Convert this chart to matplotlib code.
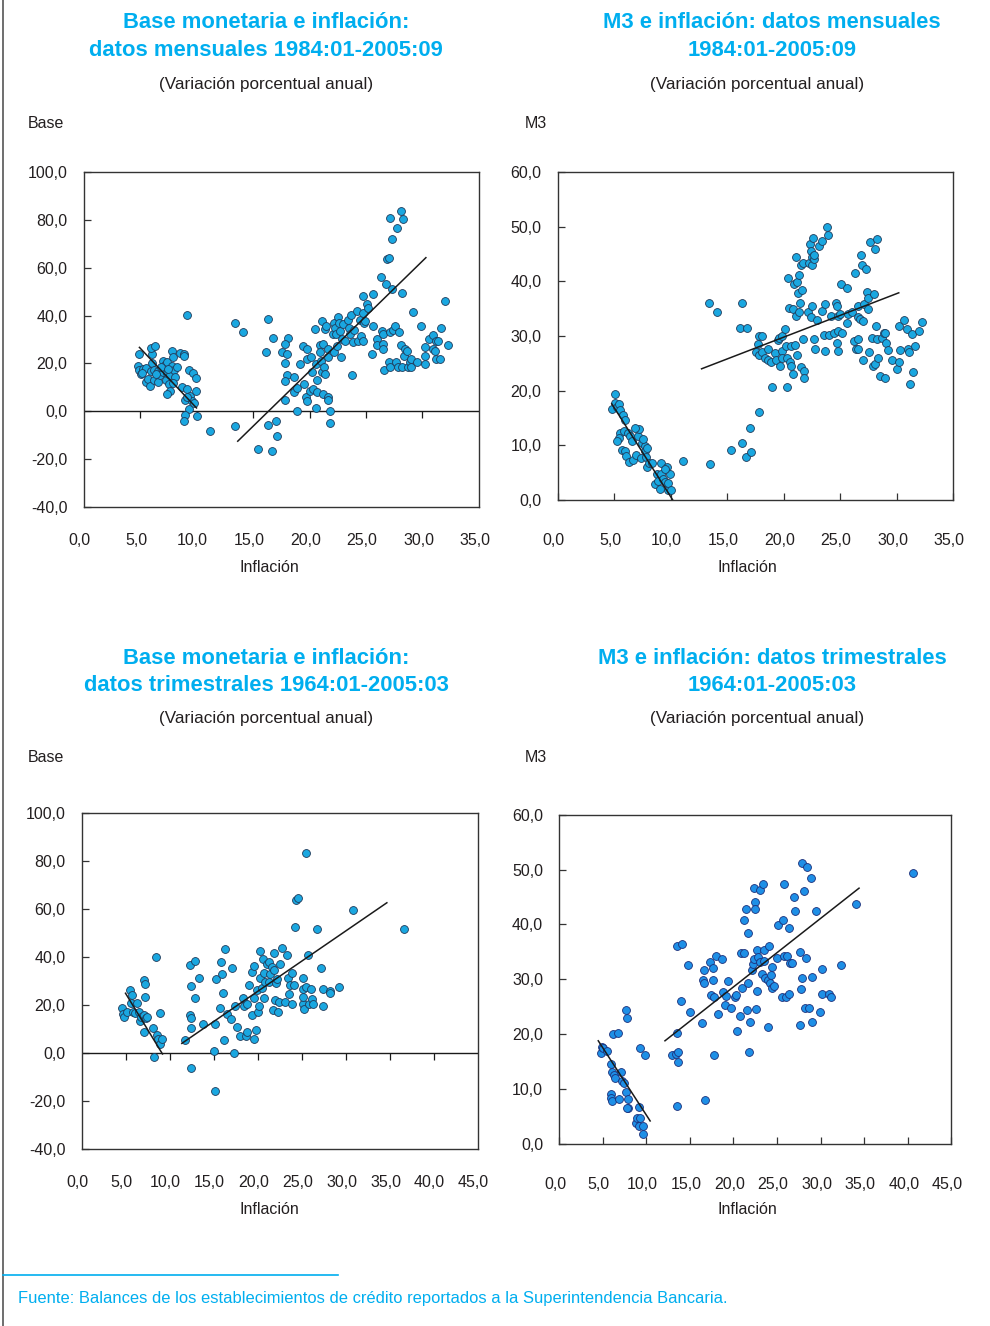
import numpy as np
import matplotlib
matplotlib.use("Agg")
import matplotlib.pyplot as plt
from matplotlib.lines import Line2D
import matplotlib.transforms as mtransforms

plt.rcParams["font.family"] = ["Liberation Sans", "DejaVu Sans"]

# --- Base monetaria vs inflacion, mensual 1984:01-2005:09 ---
bm_m_x = [4.9, 4.8, 4.95, 5.05, 5.3, 5.5, 5.55, 5.75, 5.9, 5.95, 6.05, 6.1, 6.0, 6.35, 6.2, 6.25,
          6.55, 6.6, 6.8, 7.0, 7.05, 7.25, 7.35, 7.3, 7.4, 7.6, 7.65, 7.65, 7.35, 7.8, 7.85, 7.9,
          8.05, 8.1, 8.25, 7.95, 8.55, 8.85, 8.9, 8.7, 9.15, 9.0, 9.3, 9.4, 9.6, 9.7, 9.95, 9.95,
          9.3, 8.95, 8.85, 10.0, 9.2, 9.8, 9.2, 5.15, 6.9, 6.4, 7.5,
          11.2, 13.4, 14.1, 13.45, 15.4, 16.65, 16.35, 17.0, 17.15, 16.35, 16.15, 16.75,
          18.1, 17.85, 17.6, 18.0, 17.85, 18.0, 17.85, 17.85, 18.6, 19.2, 18.6, 18.9, 18.9, 19.45,
          19.8, 19.8, 19.5, 19.65, 19.75, 20.0, 20.1, 20.2, 20.35, 20.5, 20.55, 20.6, 20.7, 20.7,
          20.9, 20.9, 21.0, 21.1, 21.1, 21.2, 21.2, 21.3, 21.4, 21.4, 21.5, 21.6, 21.6, 21.6,
          21.65, 21.8, 21.8, 22.1, 22.2, 22.2, 22.25, 22.35, 22.4, 22.55, 22.65, 22.7, 22.8, 22.9,
          23.0, 23.15, 23.4, 23.5, 23.6, 23.7, 23.8, 23.85, 23.95, 24.2, 24.3, 24.45, 24.6, 24.7,
          24.7, 24.75, 24.8, 24.95, 25.05, 25.2, 25.55, 25.65, 25.65, 26.0, 26.0, 26.3, 26.4, 26.5,
          26.5, 26.5, 26.6, 26.8, 26.9, 27.0, 27.0, 27.1, 27.1, 27.1, 27.3, 27.3, 27.4, 27.6,
          27.65, 27.7, 27.85, 27.95, 28.1, 28.1, 28.15, 28.2, 28.3, 28.4, 28.45, 28.6, 28.75, 28.9,
          29.0, 29.0, 29.2, 29.55, 29.9, 30.2, 30.2, 30.25, 30.6, 30.9, 30.95, 31.1, 31.2, 31.2,
          31.4, 31.55, 31.65, 31.95, 32.3]
bm_m_y = [23.9, 19.0, 17.2, 15.6, 17.6, 18.1, 12.1, 13.5, 10.7, 16.9, 20.0, 23.9, 26.3, 27.1, 17.2, 13.1,
          16.9, 12.1, 15.3, 21.1, 16.5, 19.3, 20.4, 13.1, 16.0, 11.4, 15.3, 8.6, 7.2, 19.0, 25.3, 22.5,
          17.4, 14.2, 18.3, 11.8, 24.2, 23.9, 22.9, 10.0, 9.3, 4.7, 17.2, 6.5, 4.4, 16.0, 13.75, 8.6,
          1.1, -1.7, -3.9, -1.8, 40.1, 3.3, 5.8, 16.2, 18.3, 15.6, 17.6,
          -8.3, 37.1, 33.3, -6.25, -15.7, -16.4, -5.6, -3.9, -10.4, 38.5, 24.6, 30.6,
          30.6, 28.3, 24.6, 23.9, 20.0, 15.3, 12.8, 4.9, 14.4, 19.7, 7.9, 9.7, 0.0, 27.4,
          26.0, 21.8, 11.4, 5.8, 4.4, 8.6, 22.8, 16.25, 9.3, 34.3, 1.4, 19.7, 13.1, 7.9,
          27.8, 24.6, 21.1, 37.8, 16.25, 7.2, 28.1, 18.3, 34.3, 15.6, 35.7, 5.8, 4.7, 22.5,
          26.0, 0.0, -4.7, 32.5, 37.1, 24.6, 35.0, 32.2, 27.4, 39.2, 36.7, 33.6, 22.5, 30.1,
          36.4, 29.4, 38.1, 35.0, 32.2, 40.3, 15.3, 28.75, 33.9, 41.9, 29.4, 38.1, 31.5, 41.0,
          29.2, 48.2, 36.7, 37.8, 44.7, 43.1, 23.9, 48.9, 35.7, 30.1, 27.8, 56.1, 33.6, 28.1,
          32.2, 26.0, 17.2, 53.3, 63.5, 64.2, 20.4, 33.3, 18.6, 80.6, 51.0, 72.2, 33.9, 35.7,
          20.4, 76.7, 18.3, 33.3, 83.9, 27.8, 18.3, 49.6, 80.4, 23.2, 26.0, 25.3, 18.3, 20.4,
          18.3, 21.8, 41.7, 20.4, 35.7, 26.9, 23.2, 19.7, 30.1, 31.9, 26.0, 25.3, 29.2, 21.8,
          29.2, 21.8, 35.0, 46.1, 27.8]
bm_m_fit1 = ([4.95, 10.0], [26.7, 1.4])
bm_m_fit2 = ([13.65, 30.3], [-12.5, 64.2])

# --- M3 vs inflacion, mensual 1984:01-2005:09 ---
m3_m_x = [5.05, 4.85, 5.05, 5.25, 5.4, 5.5, 5.8, 6.0, 5.5, 5.4, 5.7, 6.0, 6.05, 6.35, 6.7, 5.9,
          6.2, 6.4, 6.55, 6.95, 7.15, 7.25, 7.4, 7.5, 7.7, 7.75, 7.8, 7.95, 7.95, 8.1, 8.35, 8.65,
          8.8, 8.9, 9.1, 9.15, 9.2, 9.3, 9.5, 9.65, 9.75, 9.8, 9.95, 10.05, 9.55, 6.85, 7.6, 5.25,
          11.15, 13.5, 13.4, 14.1, 16.35, 16.15, 16.75, 15.35, 16.35, 16.65, 17.1, 17.05, 17.8,
          17.85, 18.1, 17.7, 17.6, 17.85, 18.1, 18.4, 18.65, 18.65, 18.9, 18.95, 19.25, 19.3, 19.5,
          19.6, 19.7, 19.85, 19.85, 19.9, 20.1, 20.2, 20.3, 20.35, 20.4, 20.5, 20.55, 20.65, 20.7,
          20.8, 20.8, 20.9, 21.0, 21.1, 21.1, 21.2, 21.2, 21.25, 21.35, 21.4, 21.5, 21.55, 21.55,
          21.6, 21.7, 21.7, 21.85, 21.85, 22.2, 22.25, 22.35, 22.4, 22.4, 22.5, 22.5, 22.55, 22.6,
          22.7, 22.7, 22.7, 22.8, 23.0, 23.1, 23.4, 23.45, 23.6, 23.7, 23.7, 23.85, 23.9, 24.0,
          24.2, 24.5, 24.65, 24.7, 24.75, 24.8, 24.8, 24.85, 25.0, 25.1, 25.2, 25.6, 25.65, 25.7,
          26.05, 26.2, 26.3, 26.4, 26.55, 26.55, 26.6, 26.6, 26.75, 26.9, 26.95, 27.05, 27.05,
          27.15, 27.3, 27.35, 27.45, 27.5, 27.6, 27.65, 27.8, 27.95, 28.05, 28.1, 28.1, 28.2,
          28.25, 28.3, 28.35, 28.55, 28.7, 28.85, 29.0, 29.0, 29.05, 29.25, 29.6, 30.0, 30.2,
          30.25, 30.3, 30.7, 30.9, 31.0, 31.15, 31.2, 31.4, 31.5, 31.6, 31.95, 32.3]
m3_m_y = [19.3, 16.6, 17.8, 17.1, 17.5, 16.5, 15.5, 14.6, 12.3, 11.4, 9.1, 9.0, 8.0, 7.0, 7.3, 12.6,
          12.2, 11.7, 10.8, 8.2, 11.7, 12.9, 7.6, 10.5, 9.9, 9.0, 7.9, 9.6, 6.0, 6.8, 6.7, 2.9,
          4.7, 3.5, 2.0, 4.7, 6.8, 3.8, 3.3, 6.1, 1.8, 3.2, 4.7, 1.8, 5.6, 13.2, 11.1, 10.8,
          7.1, 6.5, 36.1, 34.4, 36.1, 31.5, 31.5, 9.1, 10.4, 7.9, 8.8, 13.2, 16.1,
          30.0, 30.0, 28.5, 27.0, 26.6, 27.0, 26.0, 27.6, 25.7, 25.2, 20.7, 26.8, 25.7, 29.3,
          29.7, 24.5, 30.0, 27.3, 25.9, 31.2, 28.2, 20.7, 26.0, 40.7, 35.2, 25.2, 28.2, 24.6,
          23.0, 34.9, 39.5, 28.4, 33.7, 44.5, 39.8, 26.6, 37.9, 41.1, 34.4, 36.1, 24.4, 42.9,
          38.5, 29.4, 43.3, 23.6, 22.4, 34.3, 43.3, 46.8, 45.5, 33.5, 44.5, 43.0, 35.5, 48.0,
          44.0, 44.9, 29.4, 27.7, 32.9, 46.5, 47.4, 34.6, 30.1, 35.8, 27.3, 50.0, 48.4, 30.1,
          33.7, 30.6, 36.1, 35.5, 28.8, 27.3, 33.7, 30.9, 34.0, 39.5, 30.6, 32.3, 38.8, 34.1,
          34.4, 29.1, 41.5, 27.6, 27.6, 29.4, 35.5, 33.4, 33.2, 44.9, 42.9, 32.7, 25.6,
          35.8, 42.3, 38.0, 37.0, 35.0, 27.0, 47.2, 29.7, 24.6, 37.6, 45.9, 24.8, 31.8,
          29.4, 47.8, 25.9, 22.7, 29.7, 30.6, 30.6, 22.4, 28.8, 27.4, 25.6, 24.0, 31.8,
          25.2, 27.4, 32.9, 31.3, 27.6, 27.0, 21.2, 30.3, 23.4, 28.2, 30.9, 32.6]
m3_m_fit1 = ([4.8, 10.2], [17.6, 0.0])
m3_m_fit2 = ([12.75, 30.2], [24.0, 37.9])

# --- Base monetaria vs inflacion, trimestral 1964:01-2005:03 ---
bm_q_x = [4.6, 4.75, 4.85, 5.15, 5.5, 5.6, 5.7, 5.85, 6.1, 6.35, 6.5, 6.6, 6.8, 7.05, 7.25, 7.25,
          7.1, 7.1, 7.35, 7.4, 8.1, 8.25, 8.5, 8.55, 8.65, 8.95, 8.95, 9.15,
          11.8, 12.3, 12.35, 12.4, 12.4, 12.4, 12.4, 12.85, 12.9, 13.4, 13.85, 15.0, 15.2, 15.2,
          15.3, 15.75, 15.8, 16.0, 16.1, 16.2, 16.35, 16.5, 16.95, 17.1, 17.3, 17.45, 17.7, 18.0,
          18.4, 18.5, 18.65, 18.8, 18.85, 19.0, 19.35, 19.35, 19.55, 19.6, 19.6, 19.85, 19.9, 20.1,
          20.2, 20.3, 20.3, 20.5, 20.6, 20.7, 20.75, 20.85, 21.05, 21.25, 21.35, 21.45, 21.6, 21.8,
          21.9, 21.9, 22.0, 22.1, 22.2, 22.3, 22.4, 22.6, 22.8, 23.1, 23.35, 23.5, 23.6, 23.7,
          23.9, 23.95, 24.1, 24.3, 24.4, 24.55, 25.15, 25.15, 25.15, 25.2, 25.3, 25.5, 25.5, 25.7,
          25.8, 26.05, 26.2, 26.25, 26.75, 27.25, 27.4, 27.4, 28.2, 28.25, 29.3, 30.9, 36.7]
bm_q_y = [18.9, 16.3, 14.9, 17.2, 26.3, 20.7, 24.2, 17.2, 16.5, 21.0, 17.2, 13.3, 15.1, 30.4, 28.6, 23.5,
          15.8, 8.6, 14.4, 15.1, 10.3, -1.7, 40.1, 7.5, 5.8, 16.5, 3.6, 5.8,
          5.4, 36.7, 15.8, 28.1, 10.3, 14.7, -6.4, 22.8, 38.3, 31.4, 11.9, 0.8, 12.1, -15.8,
          30.7, 18.6, 37.8, 32.8, 24.9, 5.4, 43.3, 16.1, 14.2, 35.3, 0.0, 19.7, 11.0, 7.2,
          22.8, 19.7, 7.2, 20.3, 8.6, 28.4, 15.8, 33.9, 36.4, 22.8, 5.8, 9.6, 26.3, 17.2,
          19.7, 42.5, 31.4, 26.9, 39.2, 33.2, 22.8, 29.7, 36.9, 37.8, 29.7, 32.8, 36.0, 17.9,
          41.8, 34.6, 22.1, 29.0, 30.8, 17.2, 21.4, 36.9, 43.9, 21.1, 40.8, 31.1, 24.4, 28.3,
          33.2, 20.3, 28.3, 52.6, 63.8, 64.5, 31.1, 26.7, 20.3, 23.5, 18.3, 83.2, 27.6, 40.8,
          20.3, 26.7, 22.5, 20.3, 51.7, 35.3, 26.7, 19.7, 25.8, 25.1, 27.6, 59.6, 51.7]
bm_q_fit1 = ([5.0, 9.2], [24.9, -0.4])
bm_q_fit2 = ([11.4, 34.7], [4.0, 62.6])

# --- M3 vs inflacion, trimestral 1964:01-2005:03 ---
m3_q_x = [4.8, 4.9, 5.1, 5.45, 5.95, 6.05, 6.25, 6.4, 6.15, 6.8, 7.1, 7.2, 7.5, 7.65, 7.75, 5.95,
          5.95, 6.1, 6.9, 7.65, 7.9, 7.9, 7.75, 8.8, 8.9, 9.2, 9.2, 9.3, 9.3, 9.65, 9.65, 9.85,
          12.9, 13.4, 13.5, 13.6, 13.6, 13.5, 13.5, 14.15, 14.0, 14.75, 15.05, 16.45, 16.55, 16.6,
          16.65, 16.75, 17.3, 17.45, 17.6, 17.7, 17.8, 17.8, 17.95, 18.2, 18.65, 18.75, 19.0, 19.2,
          19.4, 19.7, 20.2, 20.25, 20.45, 20.7, 20.85, 20.95, 21.25, 21.25, 21.4, 21.5, 21.65,
          21.65, 21.8, 21.9, 22.1, 22.2, 22.3, 22.4, 22.5, 22.5, 22.55, 22.7, 22.75, 22.8, 23.0,
          23.05, 23.25, 23.4, 23.45, 23.55, 23.65, 23.95, 24.0, 24.1, 24.2, 24.3, 24.4, 24.45,
          24.7, 24.95, 25.15, 25.55, 25.65, 25.85, 25.85, 26.0, 26.1, 26.4, 26.4, 26.5, 26.75,
          26.9, 27.1, 27.6, 27.65, 27.75, 27.85, 27.85, 28.05, 28.15, 28.35, 28.4, 28.7, 28.85,
          28.95, 28.95, 29.5, 29.95, 30.2, 30.2, 31.0, 31.2, 32.3, 34.05, 40.55]
m3_q_y = [16.5, 17.7, 17.4, 16.9, 14.5, 13.2, 12.6, 12.1, 20.0, 20.3, 13.2, 11.5, 11.1, 24.4, 23.0, 9.05,
          8.3, 7.9, 8.2, 9.4, 8.2, 6.5, 6.6, 3.8, 4.8, 3.2, 6.8, 17.5, 4.7, 3.2, 1.8, 16.2,
          16.2, 16.4, 20.3, 16.8, 14.9, 6.9, 36.1, 36.4, 26.1, 32.6, 24.1, 22.0, 29.9, 29.4,
          31.7, 8.0, 33.1, 27.1, 29.9, 32.0, 26.7, 16.2, 34.3, 23.7, 33.7, 27.7, 25.4, 27.0,
          29.6, 24.8, 26.7, 27.1, 20.6, 23.4, 34.7, 28.5, 34.7, 40.8, 42.8, 24.4, 29.4,
          38.4, 16.8, 22.3, 31.7, 32.7, 46.7, 33.7, 44.0, 42.8, 24.6, 35.3, 27.9, 34.0, 46.3,
          33.2, 30.9, 47.3, 33.3, 35.3, 30.3, 29.9, 21.4, 36.1, 29.3, 30.7, 28.5, 32.3,
          28.8, 33.8, 39.8, 26.8, 40.8, 34.3, 47.4, 26.8, 34.3, 39.4, 27.4, 32.9, 32.9,
          45.0, 42.4, 21.7, 35.0, 28.2, 30.2, 51.1, 46.0, 24.7, 33.9, 50.4, 24.7, 48.4,
          22.3, 30.5, 42.5, 24.1, 27.4, 31.9, 27.4, 26.8, 32.6, 43.8, 49.3]
m3_q_fit1 = ([4.5, 10.45], [18.8, 4.2])
m3_q_fit2 = ([12.15, 34.4], [18.8, 46.6])

W, H = 990, 1326
fig = plt.figure(figsize=(W / 100, H / 100), dpi=100)

CYAN = "#00AEEF"
TXT = "#231F20"
FS = 11.5


def fx(px):
    return px / W


def fy(py):
    return 1 - py / H


def fmt(v):
    return f"{v:.1f}".replace(".", ",")


def panel(rect, xs, ys, fit1, fit2, xmax, ylim, yticks, zero_line, face, edge):
    ax = fig.add_axes(rect)
    ax.scatter(xs, ys, s=32, c=face, edgecolors=edge, linewidths=0.6, zorder=3)
    for f in (fit1, fit2):
        ax.plot(f[0], f[1], color="#1a1a1a", lw=1.1, zorder=4)
    ax.set_xlim(0, xmax)
    ax.set_ylim(*ylim)
    xt = np.arange(0, xmax + 1, 5)
    ax.set_xticks(xt)
    ax.set_xticklabels([fmt(v) for v in xt])
    ax.set_yticks(yticks)
    ax.set_yticklabels([fmt(v) for v in yticks])
    ax.tick_params(axis="y", direction="in", length=5, width=0.9, pad=11.5,
                   labelsize=FS, colors="#333333", labelcolor=TXT)
    if zero_line:
        ax.axhline(0, color="#1a1a1a", lw=1.0, zorder=2)
        ax.plot(xt[1:-1], np.zeros(len(xt) - 2), ls="none", marker=3, ms=5,
                mew=0.9, color="#1a1a1a", zorder=2)
        ax.tick_params(axis="x", length=0, pad=19, labelsize=FS, labelcolor=TXT)
    else:
        ax.tick_params(axis="x", direction="in", length=5, width=0.9, pad=24,
                       labelsize=FS, colors="#333333", labelcolor=TXT)
    off = mtransforms.ScaledTranslation(-4 / 100, 0, fig.dpi_scale_trans)
    for lab in ax.get_xticklabels():
        lab.set_transform(lab.get_transform() + off)
    for sp in ax.spines.values():
        sp.set_color("#333333")
        sp.set_linewidth(1.0)
    return ax


panel([fx(83.5), fy(507), fx(395.5), 335 / H], bm_m_x, bm_m_y, bm_m_fit1, bm_m_fit2,
      35, (-40, 100), np.arange(-40, 101, 20), True, "#1AA7E0", "#1F3A5A")
panel([fx(557.5), fy(500), fx(395.5), 328 / H], m3_m_x, m3_m_y, m3_m_fit1, m3_m_fit2,
      35, (0, 60), np.arange(0, 61, 10), False, "#1AA7E0", "#1F3A5A")
panel([fx(81.5), fy(1149), fx(396), 336 / H], bm_q_x, bm_q_y, bm_q_fit1, bm_q_fit2,
      45, (-40, 100), np.arange(-40, 101, 20), True, "#1AA7E0", "#1F3A5A")
panel([fx(559), fy(1144), fx(392.5), 329.4 / H], m3_q_x, m3_q_y, m3_q_fit1, m3_q_fit2,
      45, (0, 60), np.arange(0, 61, 10), False, "#1E8FE6", "#1B2F7A")

# titles and labels
titles = [
    (266, 23, "Base monetaria e inflación:"), (266, 50, "datos mensuales 1984:01-2005:09"),
    (772, 23, "M3 e inflación: datos mensuales"), (772, 50, "1984:01-2005:09"),
    (266, 658, "Base monetaria e inflación:"), (266, 685, "datos trimestrales 1964:01-2005:03"),
    (772, 658, "M3 e inflación: datos trimestrales"), (772, 685, "1964:01-2005:03"),
]
for x, y, t in titles:
    fig.text(fx(x), fy(y), t, ha="center", va="center", color=CYAN, fontsize=15.8,
             fontweight="bold")

for x, y in [(266, 84), (757, 84), (266, 719), (757, 719)]:
    fig.text(fx(x), fy(y), "(Variación porcentual anual)", ha="center", va="center",
             color=TXT, fontsize=12.3)

for x, y, t in [(46, 123, "Base"), (536, 123, "M3"), (46, 758, "Base"), (536, 758, "M3")]:
    fig.text(fx(x), fy(y), t, ha="center", va="center", color=TXT, fontsize=FS)

for x, y in [(269, 567), (747, 567), (269, 1209), (747, 1209)]:
    fig.text(fx(x), fy(y), "Inflación", ha="center", va="center", color=TXT, fontsize=FS)

# page frame and footnote
fig.add_artist(Line2D([fx(3), fx(3)], [0, 1], color="#555555", lw=1.2))
fig.add_artist(Line2D([fx(3), fx(338)], [fy(1275), fy(1275)], color=CYAN, lw=1.2))
fig.text(fx(18), fy(1298),
         "Fuente: Balances de los establecimientos de crédito reportados a la Superintendencia Bancaria.",
         ha="left", va="center", color=CYAN, fontsize=11.9)

fig.savefig("out.png", dpi=100)
